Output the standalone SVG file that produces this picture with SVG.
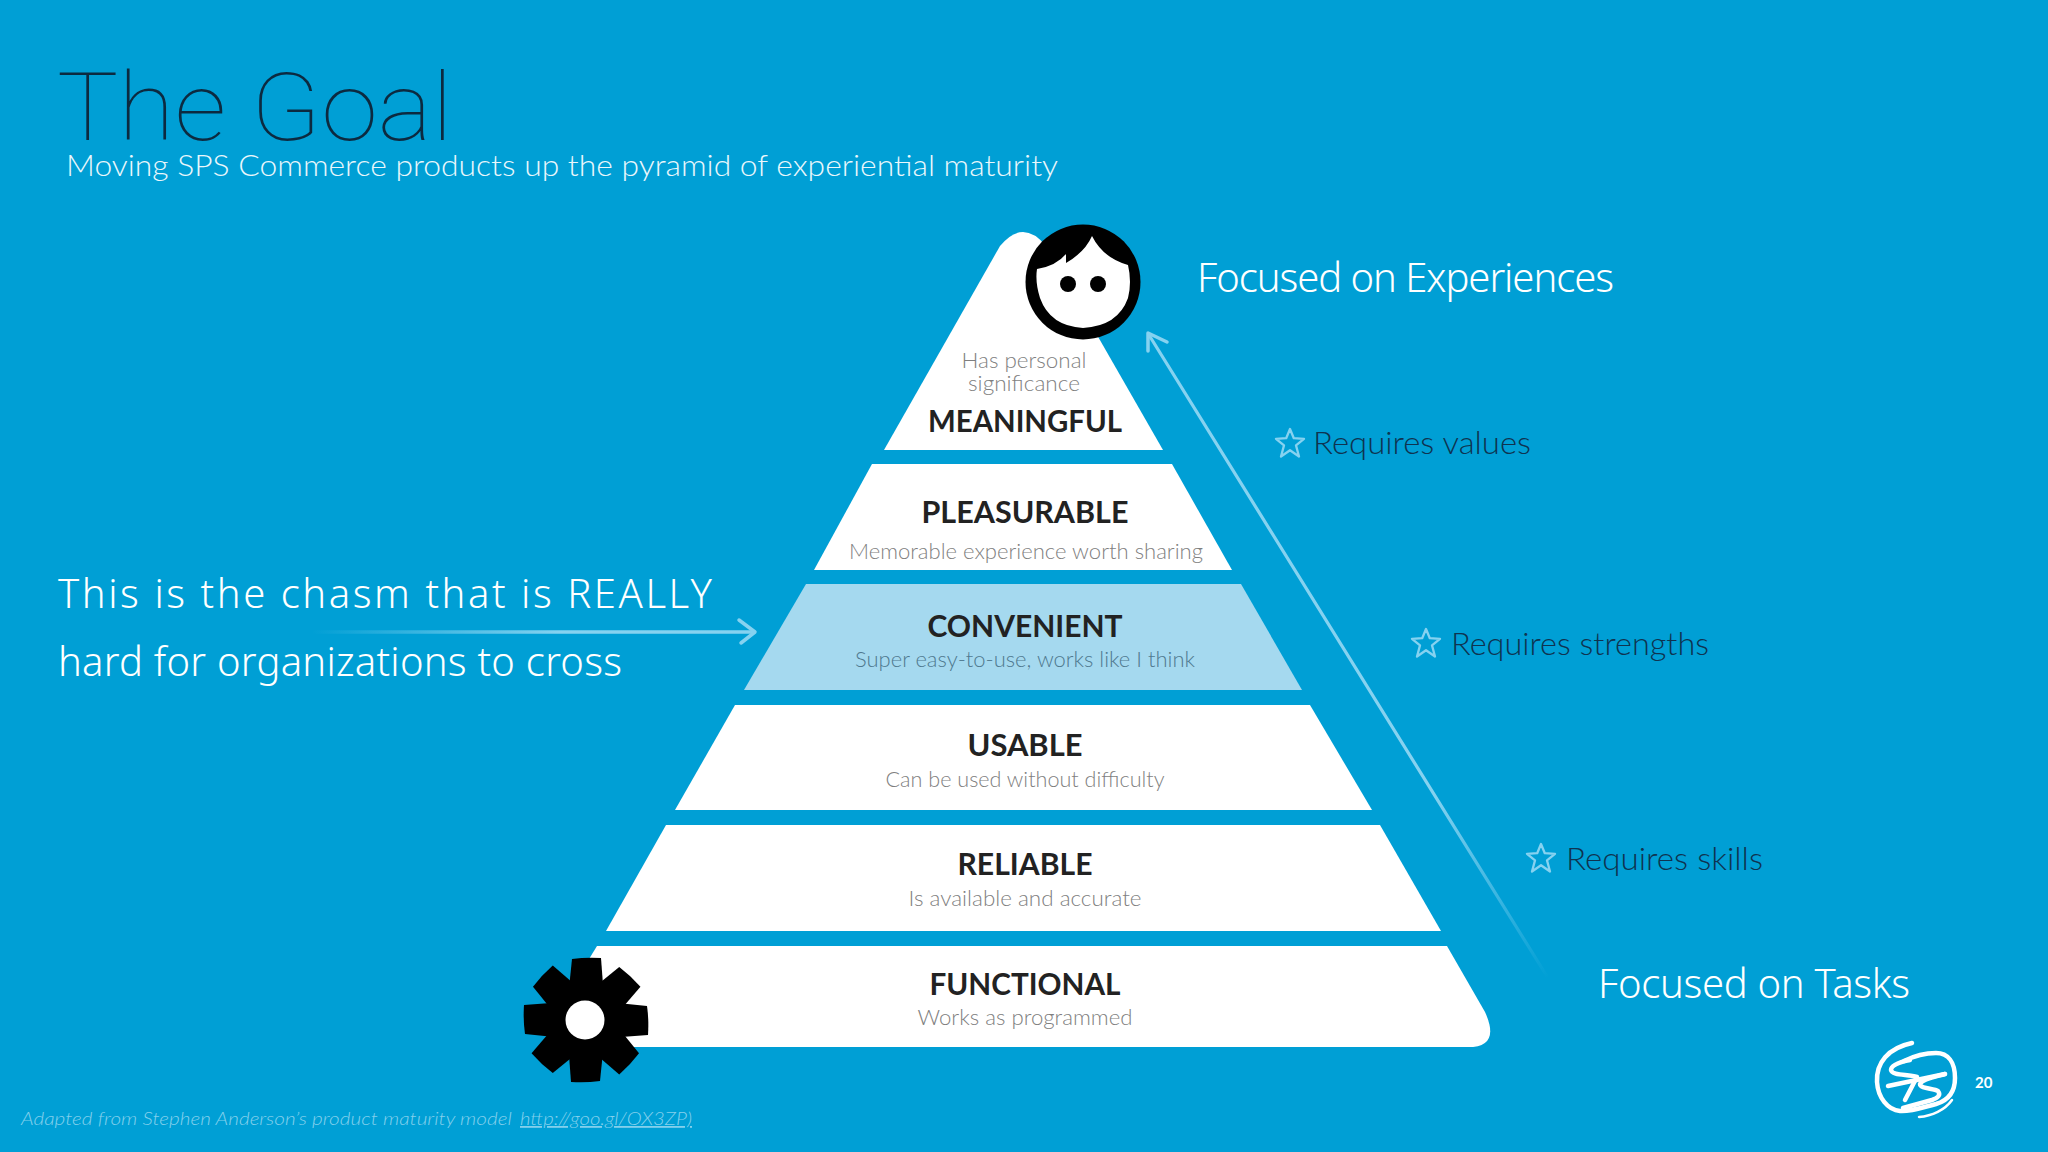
<svg xmlns="http://www.w3.org/2000/svg" width="2048" height="1152" viewBox="0 0 2048 1152">
<style>
text{font-family:"Lato","Open Sans","Liberation Sans",sans-serif}
.tier{fill:#fff}
.name{font-size:31px;font-weight:700;fill:#222;text-anchor:middle}
.desc{font-size:22px;font-weight:300;fill:#7f7f7f;text-anchor:middle}
.req{font-size:31px;font-weight:300;fill:#0f3350}
.hand{font-size:40px;font-weight:300;fill:#fff;font-family:"Noto Sans","Lato",sans-serif}
.star{fill:none;stroke:#86d2f0;stroke-width:2.3;stroke-linejoin:round}
.arrow{fill:none;stroke-linecap:round;stroke-linejoin:round}
</style>
<defs>
<linearGradient id="fadeH" gradientUnits="userSpaceOnUse" x1="312" y1="632" x2="560" y2="632"><stop offset="0" stop-color="#86d2f0" stop-opacity="0"/><stop offset="1" stop-color="#86d2f0"/></linearGradient>
<linearGradient id="fadeD" gradientUnits="userSpaceOnUse" x1="1548" y1="978" x2="1440" y2="790"><stop offset="0" stop-color="#86d2f0" stop-opacity="0"/><stop offset="1" stop-color="#86d2f0"/></linearGradient>
<polygon id="star" points="0,-14 3.8,-4.8 14,-4.2 6,2.4 9,13.5 0,7.2 -9,13.5 -6,2.4 -14,-4.2 -3.8,-4.8"/>
<path id="tooth" d="M572 959 Q586 957 601 958 L604 998 L568 998 Z" fill="#000"/>
</defs>
<rect width="2048" height="1152" fill="#009fd5"/>
<g id="title">
<text x="57" y="140" font-size="94" font-weight="100" fill="#0c2a40" textLength="396" lengthAdjust="spacingAndGlyphs" style="font-family:Roboto,Lato,sans-serif">The Goal</text>
<text x="66" y="176" font-size="30" font-weight="300" fill="#eaf7fc" textLength="992" lengthAdjust="spacingAndGlyphs">Moving SPS Commerce products up the pyramid of experiential maturity</text>
</g>
<g id="tier-meaningful">
<path class="tier" d="M884 450 L1000 246 Q1023 218 1046 246 L1163 450 Z"/>
<text class="desc" x="1024" y="368" textLength="125" lengthAdjust="spacingAndGlyphs">Has personal</text>
<text class="desc" x="1024" y="391" textLength="112" lengthAdjust="spacingAndGlyphs">significance</text>
<text class="name" x="1025" y="432" textLength="194" lengthAdjust="spacingAndGlyphs">MEANINGFUL</text>
</g>
<g id="tier-pleasurable">
<path class="tier" d="M872 464 L1172 464 L1232 570 L814 570 Z"/>
<text class="name" x="1025" y="523" textLength="207" lengthAdjust="spacingAndGlyphs">PLEASURABLE</text>
<text class="desc" x="1026" y="559" textLength="354" lengthAdjust="spacingAndGlyphs">Memorable experience worth sharing</text>
</g>
<g id="tier-convenient">
<path d="M806 584 L1241 584 L1302 690 L744 690 Z" fill="#a5d9ef"/>
<text class="name" x="1025" y="637" textLength="195" lengthAdjust="spacingAndGlyphs">CONVENIENT</text>
<text class="desc" x="1025" y="667" style="fill:#50798f" textLength="340" lengthAdjust="spacingAndGlyphs">Super easy-to-use, works like I think</text>
</g>
<g id="tier-usable">
<path class="tier" d="M735 705 L1310 705 L1372 810 L675 810 Z"/>
<text class="name" x="1025" y="756" textLength="115" lengthAdjust="spacingAndGlyphs">USABLE</text>
<text class="desc" x="1025" y="787" textLength="279" lengthAdjust="spacingAndGlyphs">Can be used without difficulty</text>
</g>
<g id="tier-reliable">
<path class="tier" d="M666 825 L1380 825 L1441 931 L606 931 Z"/>
<text class="name" x="1025" y="875" textLength="135" lengthAdjust="spacingAndGlyphs">RELIABLE</text>
<text class="desc" x="1025" y="906" textLength="233" lengthAdjust="spacingAndGlyphs">Is available and accurate</text>
</g>
<g id="tier-functional">
<path class="tier" d="M597 946 L1447 946 L1485 1012 Q1501 1047 1468 1047 L560 1047 L570 990 Z"/>
<text class="name" x="1025" y="995" textLength="191" lengthAdjust="spacingAndGlyphs">FUNCTIONAL</text>
<text class="desc" x="1025" y="1025" textLength="215" lengthAdjust="spacingAndGlyphs">Works as programmed</text>
</g>
<g id="gear">
<use href="#tooth"/>
<use href="#tooth" transform="rotate(45 586 1020)"/>
<use href="#tooth" transform="rotate(90 586 1020)"/>
<use href="#tooth" transform="rotate(135 586 1020)"/>
<use href="#tooth" transform="rotate(180 586 1020)"/>
<use href="#tooth" transform="rotate(225 586 1020)"/>
<use href="#tooth" transform="rotate(270 586 1020)"/>
<use href="#tooth" transform="rotate(315 586 1020)"/>
<circle cx="586" cy="1020" r="35" fill="#000"/>
<circle cx="585" cy="1020" r="19.5" fill="#fff"/>
</g>
<g id="face">
<circle cx="1083" cy="282" r="57.5" fill="#000"/>
<path d="M1037 269 Q1056 266 1066 254 L1066 263 Q1085 252 1092 236 Q1103 258 1128 265 Q1132 282 1128 298 Q1118 326 1083 328 Q1050 326 1040 298 Q1035 282 1037 269 Z" fill="#fff"/>
<circle cx="1068" cy="284" r="8" fill="#000"/>
<circle cx="1098" cy="284" r="8" fill="#000"/>
</g>
<g id="connectors" class="arrow">
<path d="M1548 978 L1149 335" stroke="url(#fadeD)" stroke-width="3.2"/>
<path d="M1148 351 L1148 333 L1167 342" stroke="#86d2f0" stroke-width="3.5"/>
<path d="M312 632 L752 632" stroke="url(#fadeH)" stroke-width="3.5"/>
<path d="M739 620 L755 632 L741 643" stroke="#86d2f0" stroke-width="3.5"/>
</g>
<g id="note-experiences"><text class="hand" x="1197" y="292" textLength="417" lengthAdjust="spacing">Focused on Experiences</text></g>
<g id="note-tasks"><text class="hand" x="1598" y="998" textLength="312" lengthAdjust="spacing">Focused on Tasks</text></g>
<g id="note-chasm">
<text class="hand" x="58" y="608" textLength="654" lengthAdjust="spacing">This is the chasm that is REALLY</text>
<text class="hand" x="58" y="676" textLength="564" lengthAdjust="spacing">hard for organizations to cross</text>
</g>
<g id="req-values"><use href="#star" class="star" transform="translate(1290 443)"/><text class="req" x="1313" y="454" textLength="218" lengthAdjust="spacingAndGlyphs">Requires values</text></g>
<g id="req-strengths"><use href="#star" class="star" transform="translate(1426 643)"/><text class="req" x="1451" y="655" textLength="258" lengthAdjust="spacingAndGlyphs">Requires strengths</text></g>
<g id="req-skills"><use href="#star" class="star" transform="translate(1541 858)"/><text class="req" x="1566" y="870" textLength="197" lengthAdjust="spacingAndGlyphs">Requires skills</text></g>
<g id="footer"><text x="21" y="1125" font-size="18" font-style="italic" font-weight="300" fill="#84d0ec"><tspan textLength="496" lengthAdjust="spacingAndGlyphs">Adapted from Stephen Anderson’s product maturity model </tspan><tspan x="520" text-decoration="underline" textLength="172" lengthAdjust="spacingAndGlyphs">http://goo.gl/OX3ZP)</tspan></text></g>
<g id="logo" fill="none" stroke="#fff" stroke-linecap="round" stroke-linejoin="round">
<path stroke-width="4.5" d="M1912 1043 C1888 1048 1876 1063 1877 1082 C1878 1098 1888 1110 1900 1111 C1910 1112 1924 1107 1936 1104 C1950 1100 1955 1090 1955 1078 C1955 1062 1948 1053 1936 1053 C1924 1053 1914 1056 1904 1061"/>
<path stroke-width="2.5" d="M1952 1100 C1945 1110 1932 1116 1919 1117"/>
<path stroke-width="4.5" d="M1910 1060 C1900 1062 1891 1065 1891 1070 C1892 1076 1908 1074 1917 1077 L1905 1100"/>
<path stroke-width="4.5" d="M1888 1086 L1945 1074"/>
<path stroke-width="4.5" d="M1945 1074 C1934 1077 1922 1079 1920 1084 C1920 1089 1934 1088 1938 1091 C1941 1095 1938 1098 1932 1100 L1903 1108"/>
</g>
<g id="page-number"><text x="1975" y="1088" font-size="15" font-weight="700" fill="#fff">20</text></g>
</svg>
